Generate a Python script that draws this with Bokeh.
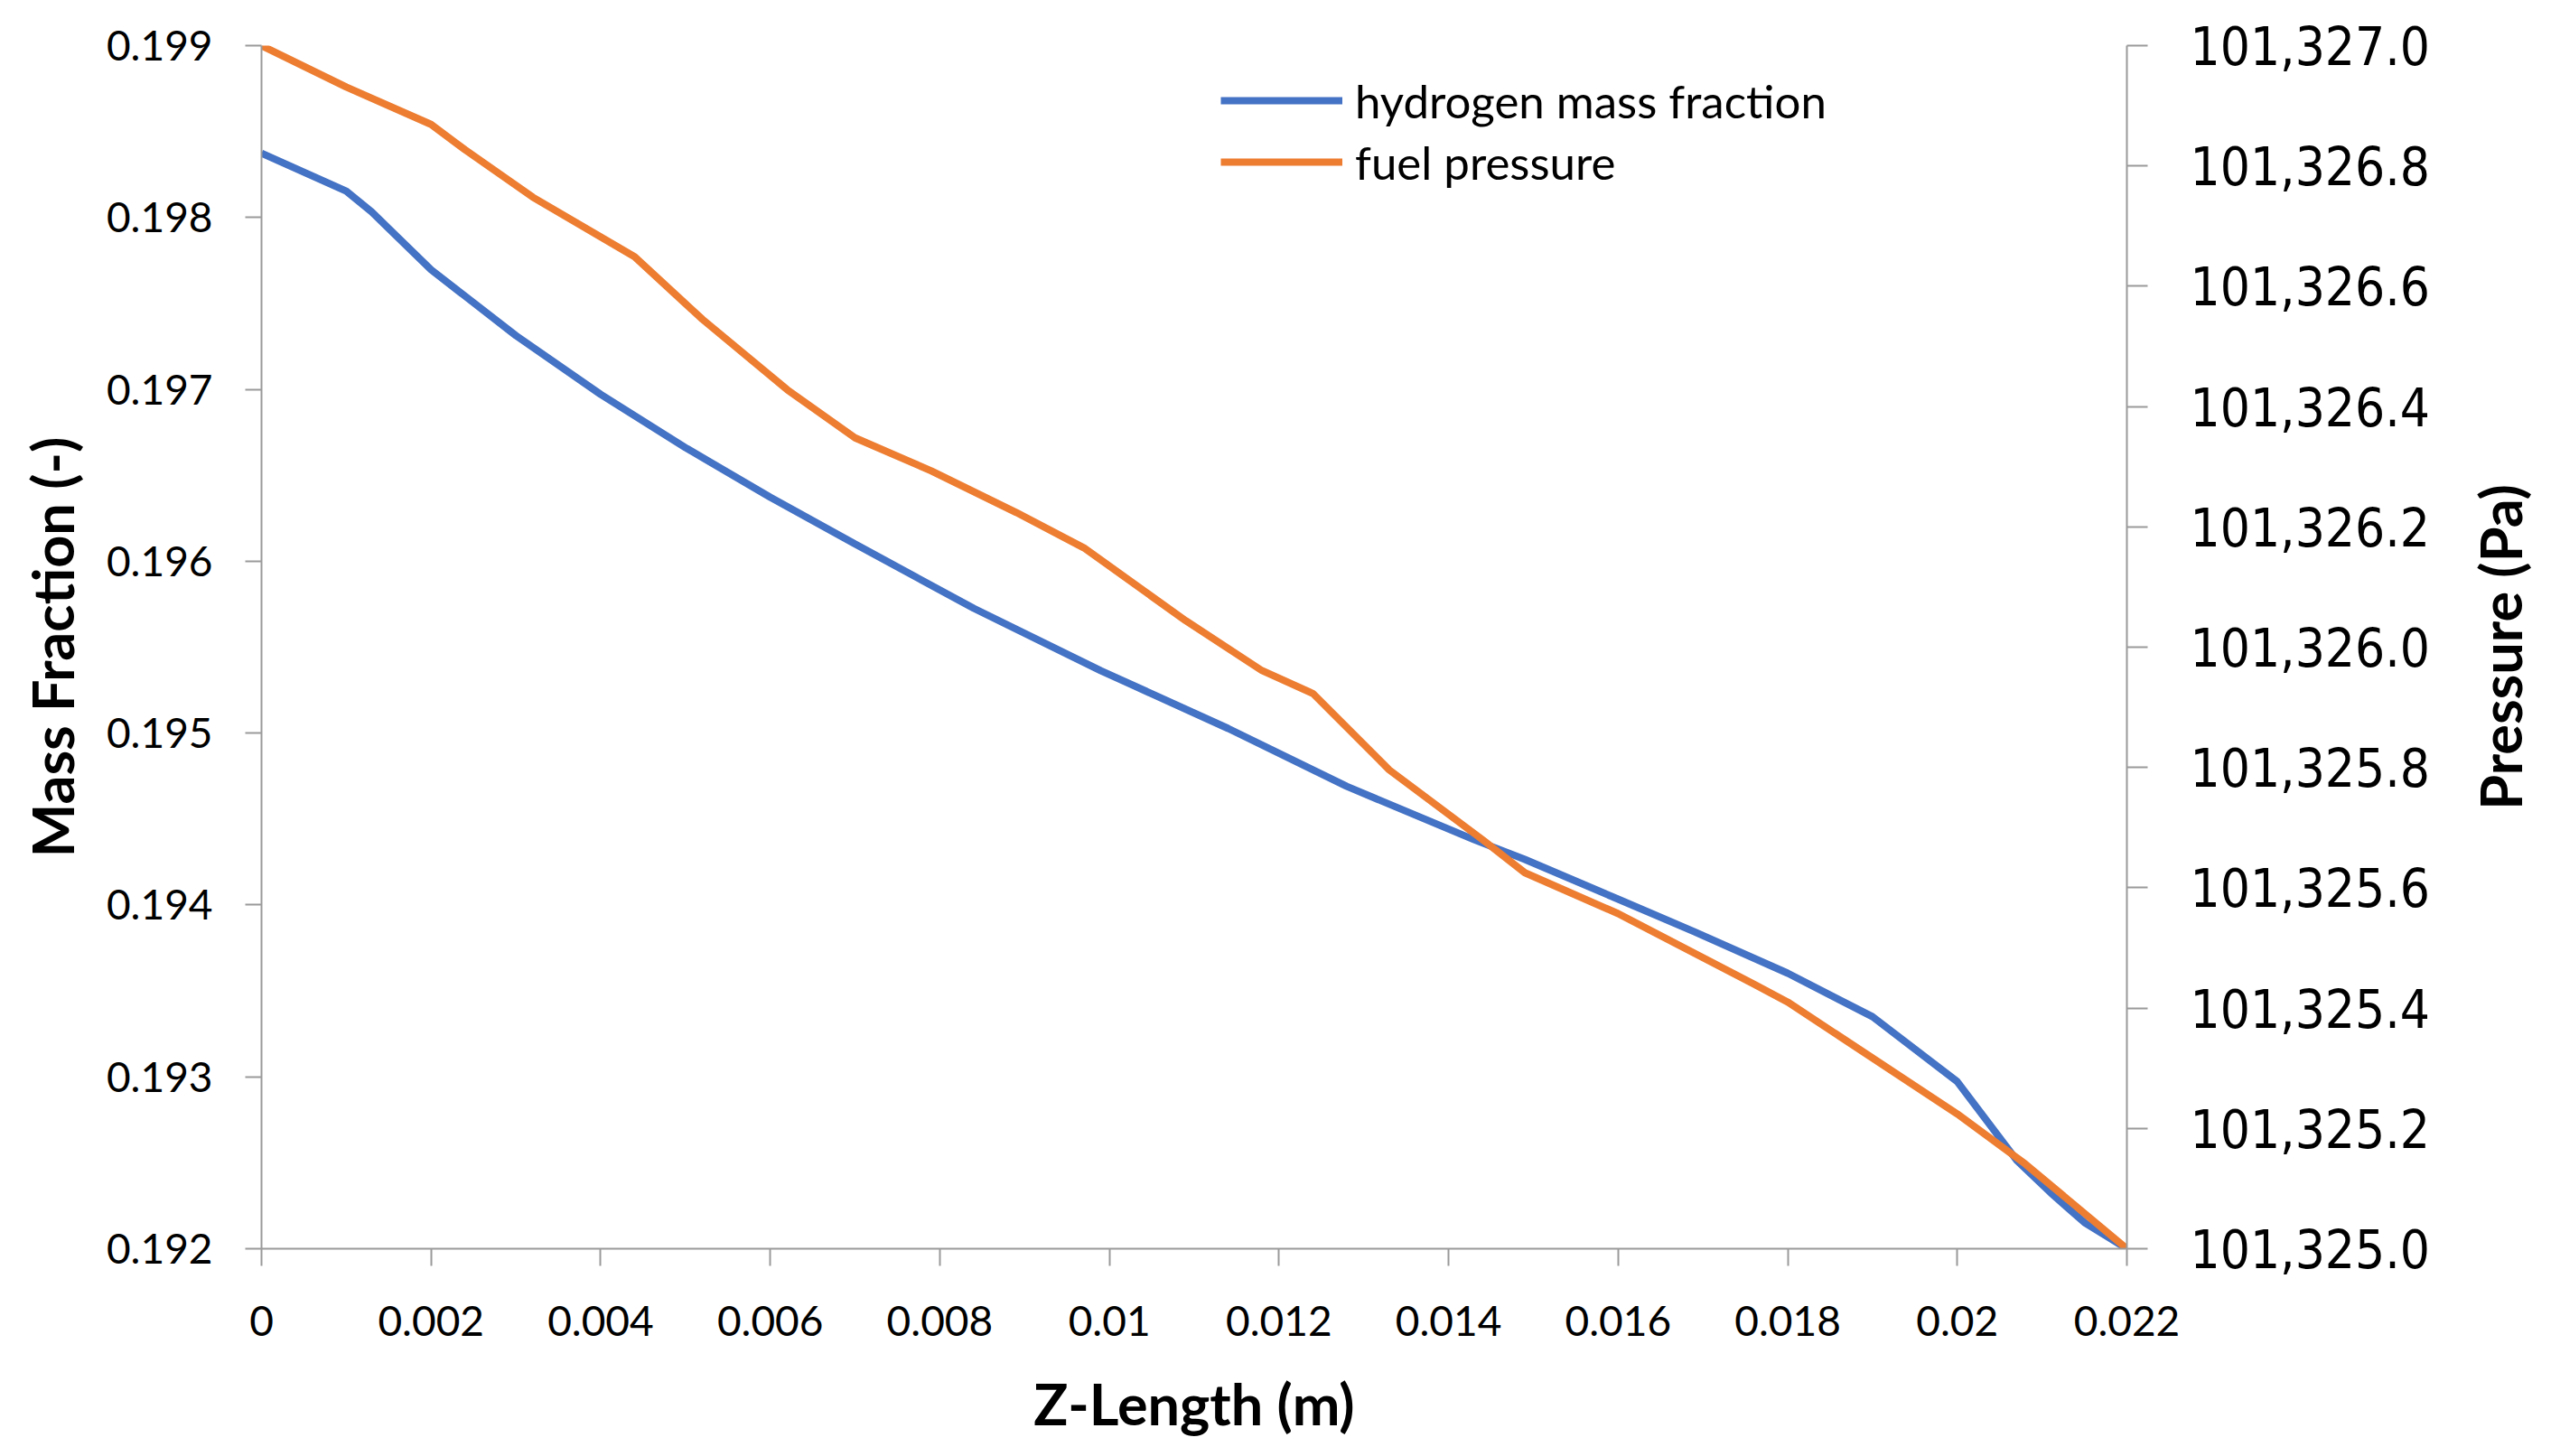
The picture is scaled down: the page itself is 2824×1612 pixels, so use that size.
import math
from bokeh.plotting import figure
from bokeh.models import Range1d, LinearAxis, FixedTicker, NumeralTickFormatter, Legend, LegendItem, Label
from bokeh.embed import file_html
from bokeh.resources import INLINE

# ---- data ----
z_h2 = [0.0, 0.001, 0.0013, 0.002, 0.003, 0.004, 0.005, 0.006, 0.007, 0.0084,
        0.0099, 0.0114, 0.0128, 0.0143, 0.0149, 0.016, 0.0169, 0.018, 0.019,
        0.020, 0.0207, 0.0211, 0.0215, 0.022]
h2_mass_fraction = [0.198374, 0.198153, 0.198032, 0.197696, 0.197313, 0.196971,
                    0.196661, 0.196372, 0.196100, 0.195726, 0.195363, 0.195027,
                    0.194690, 0.194380, 0.194265, 0.194034, 0.193844, 0.193603,
                    0.193350, 0.192972, 0.192515, 0.192326, 0.192152, 0.192000]

z_p = [0.0, 0.001, 0.002, 0.0024, 0.0032, 0.0044, 0.0052, 0.0062, 0.007, 0.0079,
       0.0089, 0.0097, 0.0109, 0.0118, 0.0124, 0.0133, 0.0144, 0.0149, 0.016,
       0.0176, 0.018, 0.020, 0.0208, 0.022]
fuel_pressure = [101327.000, 101326.931, 101326.869, 101326.827, 101326.748,
                 101326.649, 101326.545, 101326.428, 101326.348, 101326.293,
                 101326.224, 101326.165, 101326.044, 101325.961, 101325.923,
                 101325.796, 101325.680, 101325.625, 101325.557, 101325.440,
                 101325.410, 101325.224, 101325.141, 101325.000]

x_ticks = [0.0, 0.002, 0.004, 0.006, 0.008, 0.010, 0.012, 0.014, 0.016, 0.018, 0.020, 0.022]
x_tick_labels = ["0", "0.002", "0.004", "0.006", "0.008", "0.01", "0.012",
                 "0.014", "0.016", "0.018", "0.02", "0.022"]
left_ticks = [0.192, 0.193, 0.194, 0.195, 0.196, 0.197, 0.198, 0.199]
right_ticks = [101325.0, 101325.2, 101325.4, 101325.6, 101325.8, 101326.0,
               101326.2, 101326.4, 101326.6, 101326.8, 101327.0]

series_names = ["hydrogen mass fraction", "fuel pressure"]
colors = ["#4472C4", "#ED7D31"]

FONT = "Lato"
AXIS_COLOR = "#9a9a9a"
FRAME_H = 1332

p = figure(frame_width=2065, frame_height=FRAME_H, output_backend="svg", toolbar_location=None,
           x_range=Range1d(0.0, 0.022), y_range=Range1d(0.192, 0.199),
           min_border_left=289, min_border_right=454, min_border_top=50,
           min_border_bottom=214, x_axis_type=None, y_axis_type=None)
p.extra_y_ranges = {"p": Range1d(101325.0, 101327.0)}
p.outline_line_color = None
p.xgrid.visible = False
p.ygrid.visible = False
p.background_fill_color = "white"
p.border_fill_color = "white"

def style(ax, tick_out, standoff, label_standoff, label_font, label_size):
    ax.axis_line_color = AXIS_COLOR
    ax.axis_line_width = 2
    ax.major_tick_line_color = AXIS_COLOR
    ax.major_tick_line_width = 2
    ax.major_tick_out = tick_out
    ax.major_tick_in = 0
    ax.minor_tick_line_color = None
    ax.major_label_text_font = label_font
    ax.major_label_text_font_size = label_size
    ax.major_label_text_color = "black"
    ax.major_label_standoff = standoff
    ax.axis_label_text_font = FONT
    ax.axis_label_text_font_style = "bold"
    ax.axis_label_text_font_size = "63px"
    ax.axis_label_text_color = "black"
    ax.axis_label_standoff = label_standoff

xaxis = LinearAxis(ticker=FixedTicker(ticks=x_ticks), axis_label="Z-Length (m)")
xaxis.major_label_overrides = {t: s for t, s in zip(x_ticks, x_tick_labels)}
style(xaxis, 19, 44, 34, FONT, "46px")
p.add_layout(xaxis, "below")

yaxis = LinearAxis(ticker=FixedTicker(ticks=left_ticks), axis_label="Mass Fraction (-)",
                   formatter=NumeralTickFormatter(format="0.000"))
style(yaxis, 18, 36, 20, FONT, "46px")
p.add_layout(yaxis, "left")

raxis = LinearAxis(y_range_name="p", ticker=FixedTicker(ticks=right_ticks),
                   formatter=NumeralTickFormatter(format="0,0.0"))
style(raxis, 23, 47, 0, "DejaVu Sans Condensed", "58px")
p.add_layout(raxis, "right")

# right axis title in its own side panel, reading bottom-to-top like the reference
rtitle = Label(x=75, y=FRAME_H / 2, x_units="screen", y_units="screen",
               text="Pressure (Pa)", angle=math.pi / 2,
               text_align="center", text_baseline="middle",
               text_font=FONT, text_font_style="bold", text_font_size="63px",
               text_color="black")
p.add_layout(rtitle, "right")

r1 = p.line(z_h2, h2_mass_fraction, line_color=colors[0], line_width=8)
r2 = p.line(z_p, fuel_pressure, line_color=colors[1], line_width=8, y_range_name="p")

legend = Legend(items=[LegendItem(label=series_names[0], renderers=[r1]),
                       LegendItem(label=series_names[1], renderers=[r2])],
                location=(1062, 1169), orientation="vertical")
legend.background_fill_alpha = 0
legend.border_line_alpha = 0
legend.padding = 0
legend.margin = 0
legend.spacing = 0
legend.glyph_width = 135
legend.glyph_height = 68
legend.label_height = 68
legend.label_standoff = 14
legend.label_text_font = FONT
legend.label_text_font_size = "51px"
legend.label_text_color = "black"
p.add_layout(legend, "center")

open("out.html", "w").write(file_html(p, INLINE))
